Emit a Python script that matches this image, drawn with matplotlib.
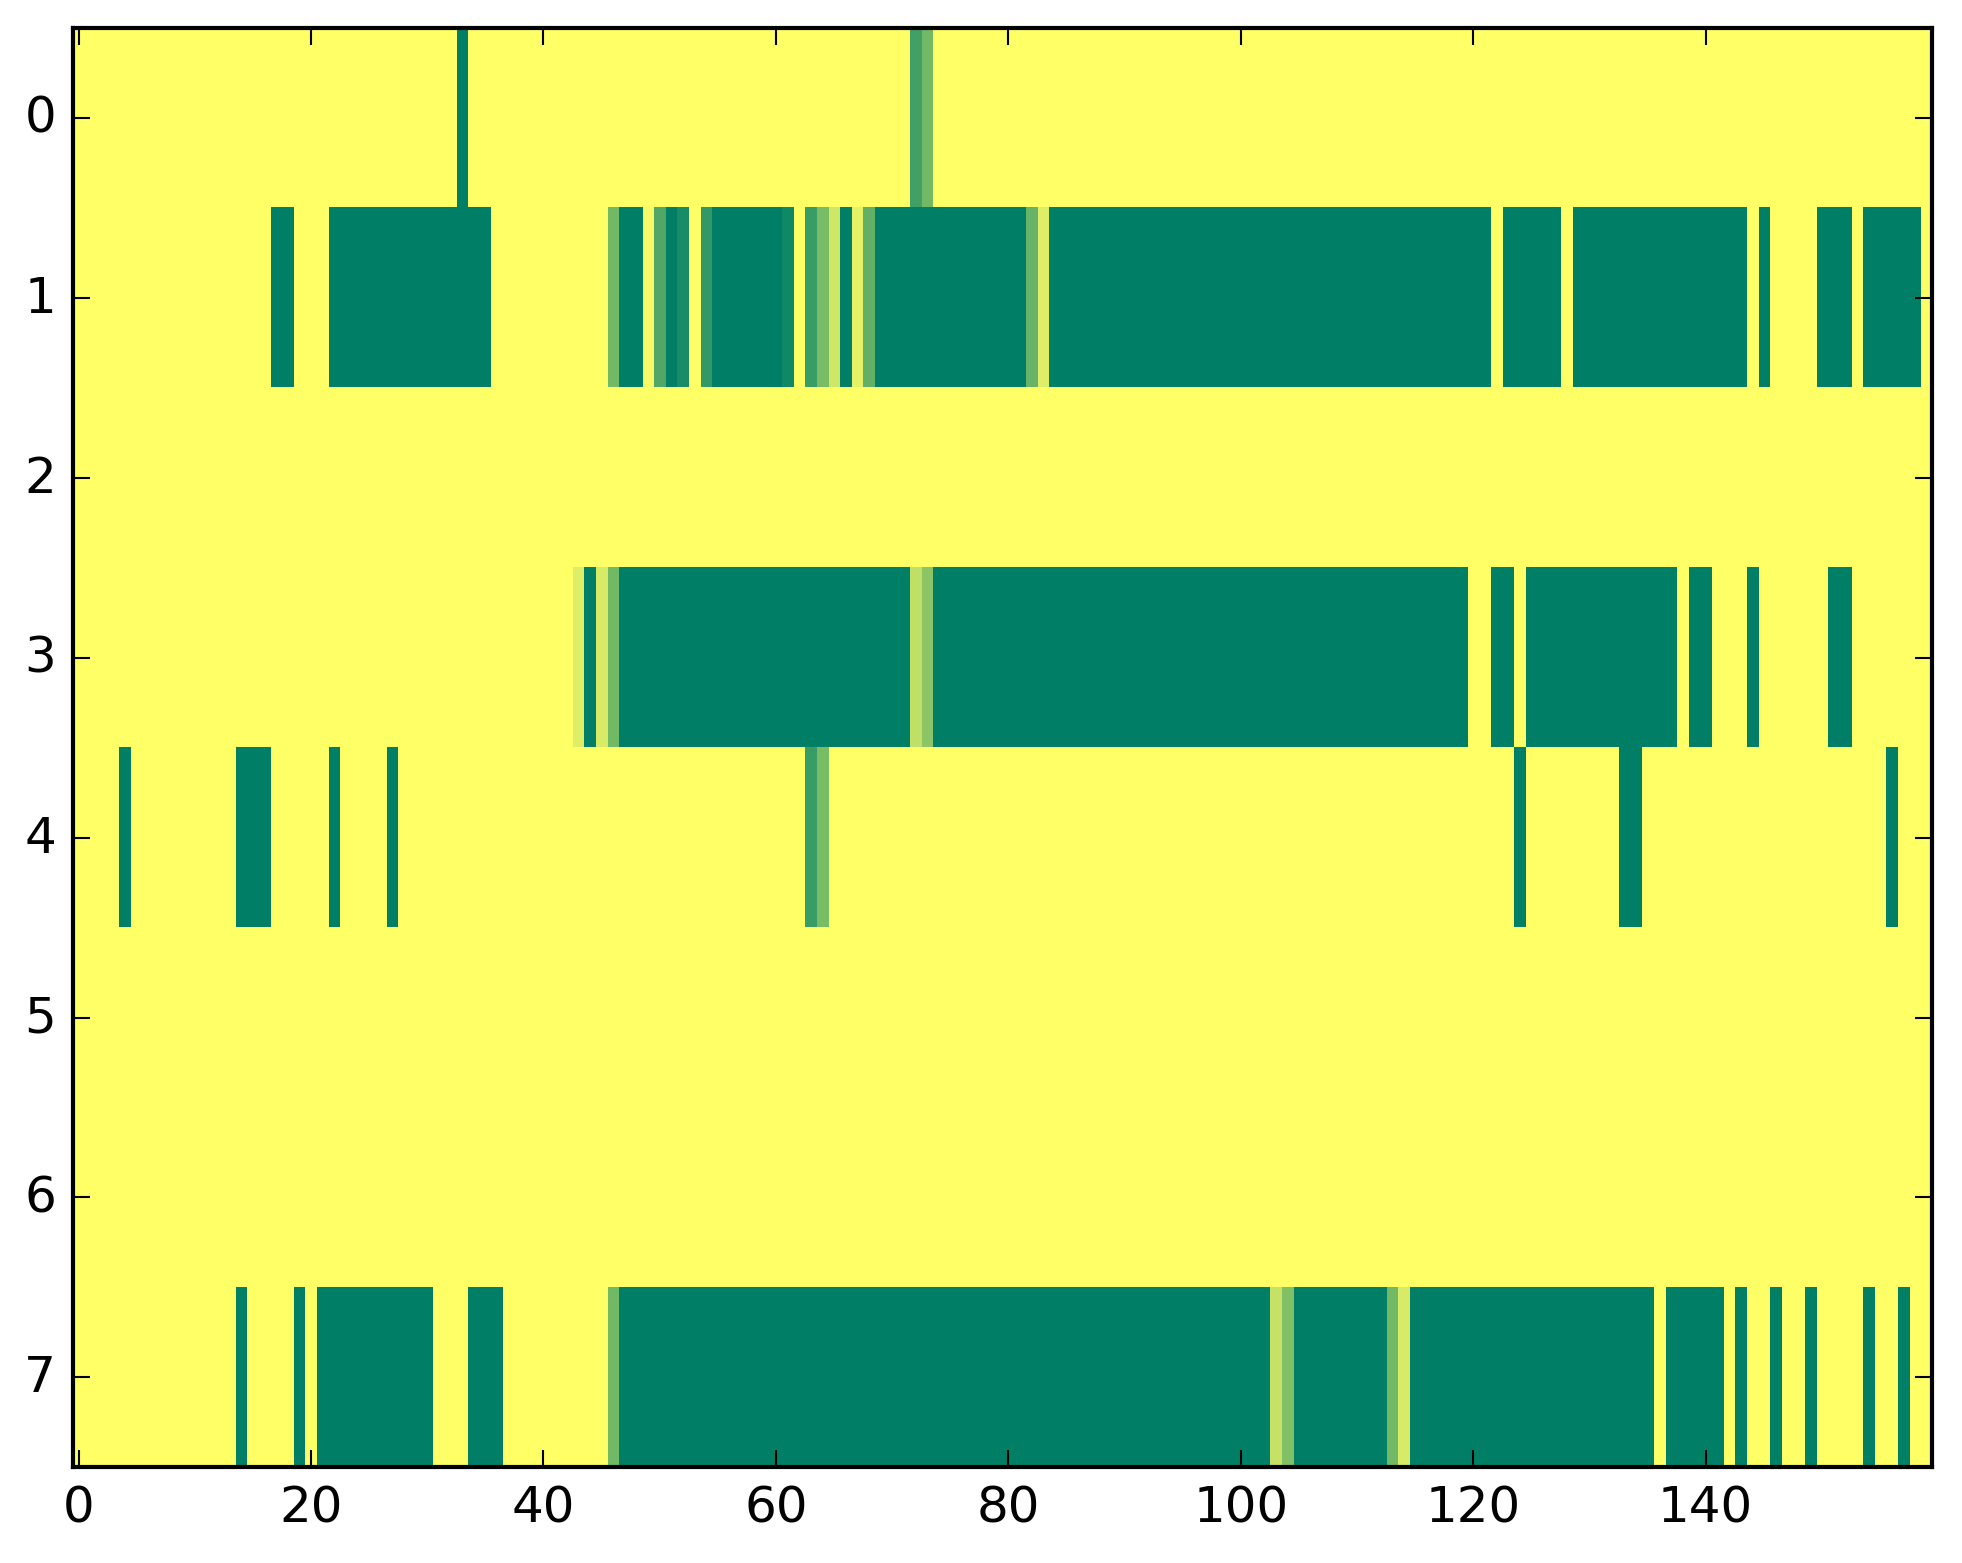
import numpy as np
import matplotlib
matplotlib.use("Agg")
from matplotlib import pyplot as plt

# runs of (first column, last column, value) for each row of the map
n_cols = 160
row0 = [(33, 33, 1.0), (72, 72, 0.74), (73, 73, 0.55)]
row1 = [(17, 18, 1.0), (22, 35, 1.0), (46, 46, 0.55), (47, 48, 1.0),
        (49, 49, 0.04), (50, 50, 0.68), (51, 51, 1.0), (52, 52, 0.9),
        (54, 54, 0.8), (55, 60, 1.0), (61, 61, 0.93), (63, 63, 0.77),
        (64, 64, 0.52), (65, 65, 0.19), (66, 66, 1.0), (67, 67, 0.1),
        (68, 68, 0.62), (69, 81, 1.0), (82, 82, 0.59), (83, 83, 0.13),
        (84, 121, 1.0), (123, 127, 1.0), (129, 143, 1.0), (145, 145, 1.0),
        (150, 152, 1.0), (154, 158, 1.0)]
row2 = []
row3 = [(43, 43, 0.13), (44, 44, 1.0), (45, 45, 0.16), (46, 46, 0.55),
        (47, 71, 1.0), (72, 72, 0.25), (73, 73, 0.45), (74, 119, 1.0),
        (122, 123, 1.0), (125, 137, 1.0), (139, 140, 1.0), (144, 144, 1.0),
        (151, 152, 1.0)]
row4 = [(4, 4, 1.0), (14, 16, 1.0), (22, 22, 1.0), (27, 27, 1.0),
        (63, 63, 0.77), (64, 64, 0.52), (124, 124, 1.0), (133, 134, 1.0),
        (156, 156, 1.0)]
row5 = []
row6 = []
row7 = [(14, 14, 1.0), (19, 19, 1.0), (21, 30, 1.0), (34, 36, 1.0),
        (46, 46, 0.55), (47, 102, 1.0), (103, 103, 0.23), (104, 104, 0.49),
        (105, 112, 1.0), (113, 113, 0.55), (114, 114, 0.16), (115, 135, 1.0),
        (137, 141, 1.0), (143, 143, 1.0), (146, 146, 1.0), (149, 149, 1.0),
        (154, 154, 1.0), (157, 157, 1.0)]

rows = [row0, row1, row2, row3, row4, row5, row6, row7]
xticks = [0, 20, 40, 60, 80, 100, 120, 140]
yticks = [0, 1, 2, 3, 4, 5, 6, 7]

grid = np.zeros((len(rows), n_cols))
for i, runs in enumerate(rows):
    for a, b, v in runs:
        grid[i, a:b + 1] = v

plt.style.use("classic")
plt.rcParams["font.family"] = "DejaVu Sans"
plt.rcParams["font.size"] = 12

fig = plt.figure(figsize=(6.543, 5.213), dpi=300)
ax = fig.add_axes([0.0371, 0.0612, 0.9473, 0.9203])
ax.imshow(grid, cmap="summer_r", vmin=0, vmax=1, aspect="auto",
          interpolation="nearest")
ax.set_xticks(xticks)
ax.set_yticks(yticks)
ax.set_xlim(-0.5, n_cols - 0.5)
ax.set_ylim(len(rows) - 0.5, -0.5)

fig.savefig("out.png", dpi=300)
